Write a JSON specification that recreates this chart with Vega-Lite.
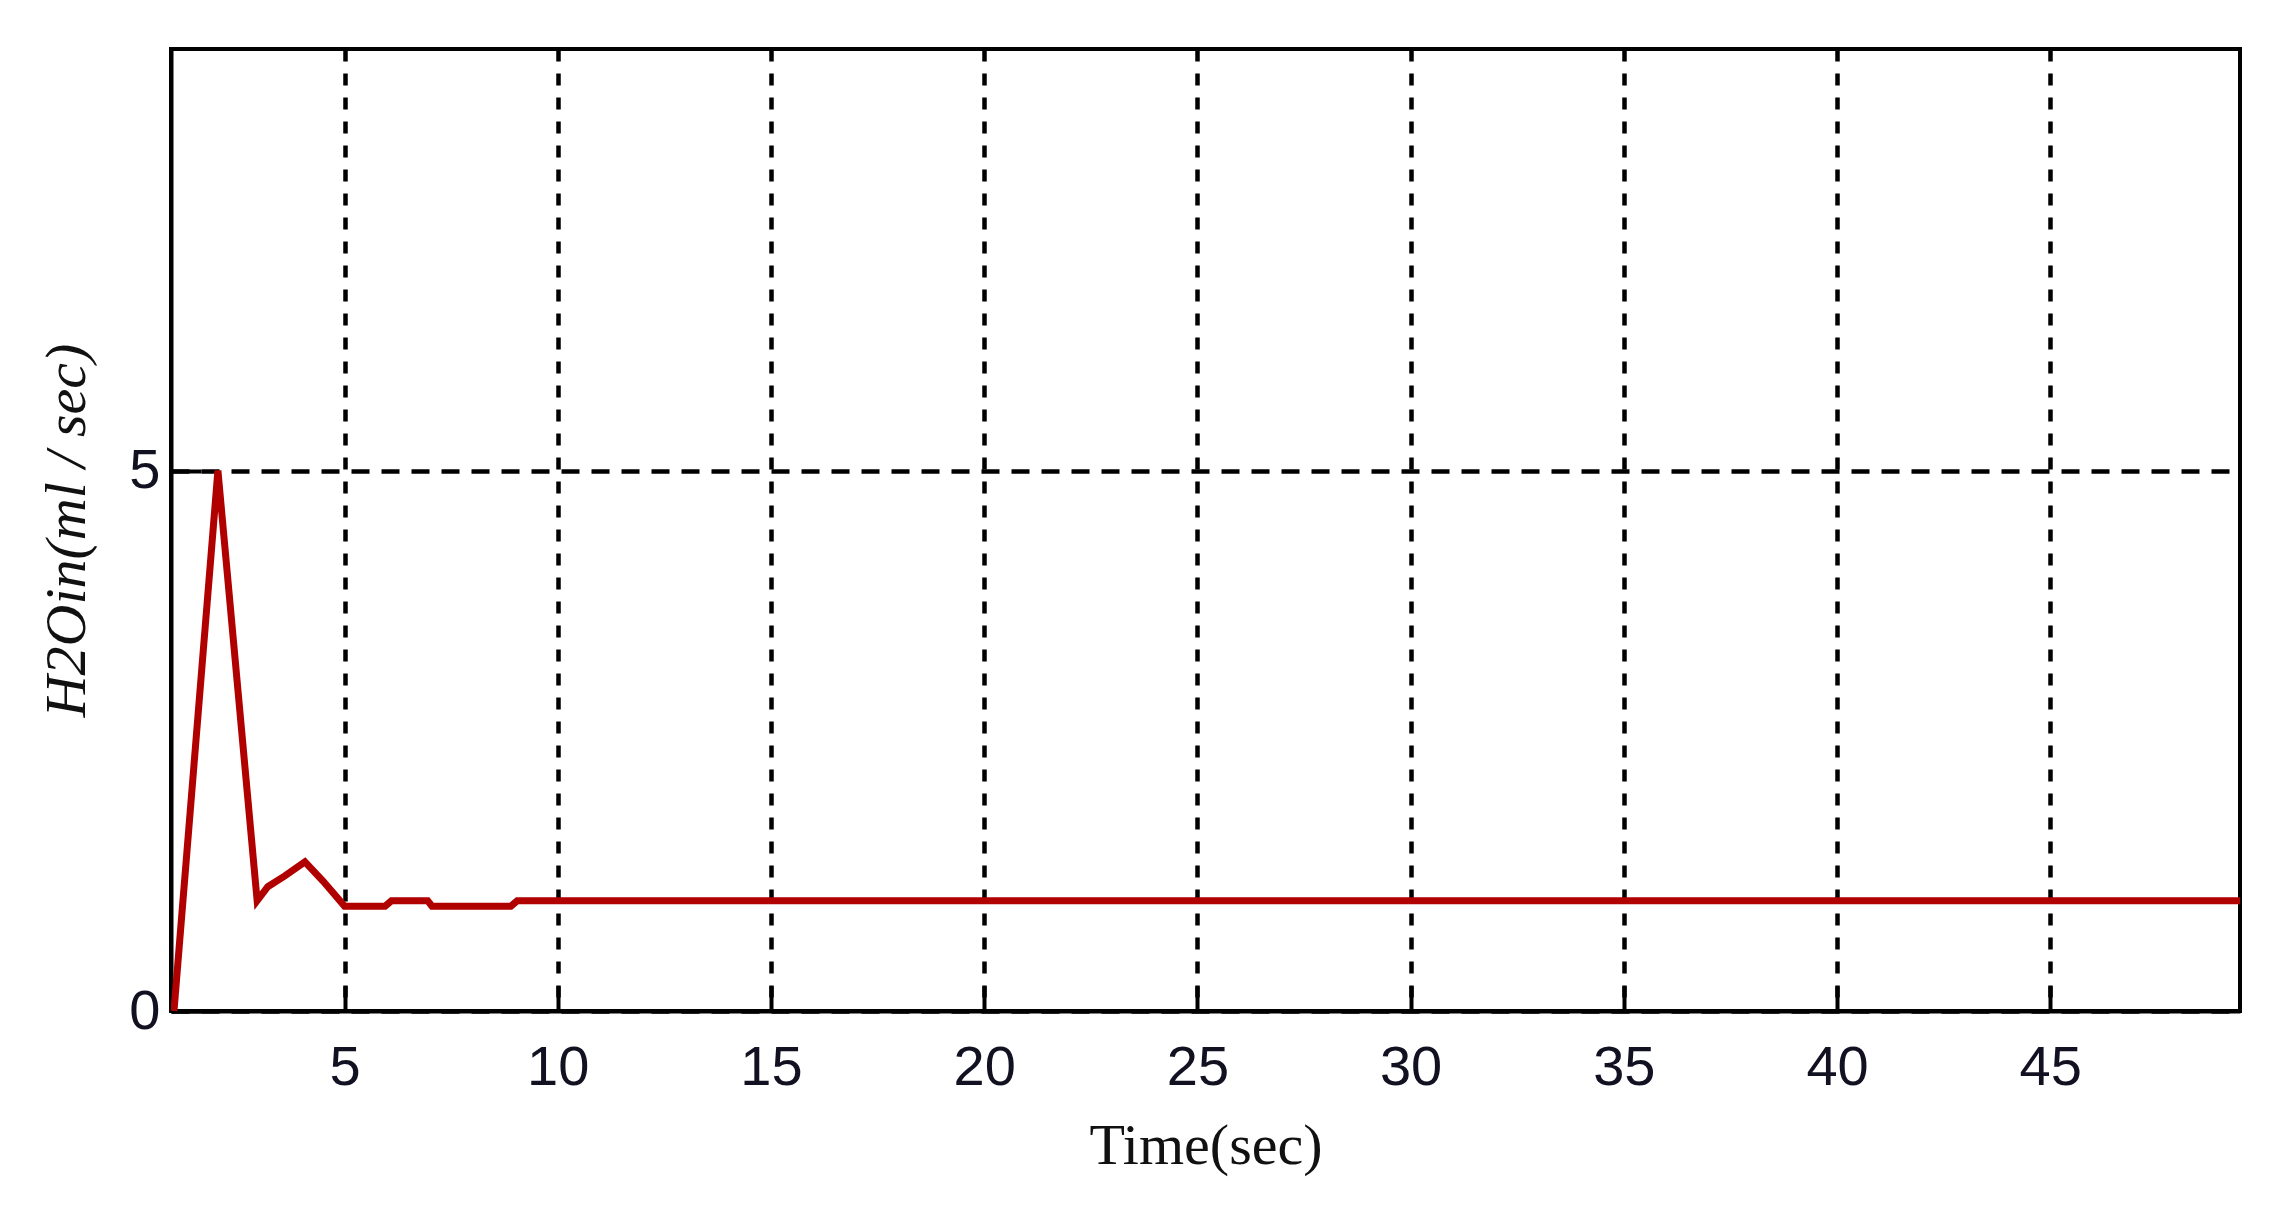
{
  "$schema": "https://vega.github.io/schema/vega-lite/v6.json",
  "width": 2069,
  "height": 962,
  "autosize": {"type": "none"},
  "padding": {"left": 171, "top": 49, "right": 47, "bottom": 216},
  "background": "white",
  "config": {
    "view": {"stroke": "black", "strokeWidth": 4},
    "axis": {
      "domainColor": "black",
      "domainWidth": 4,
      "tickColor": "black",
      "tickWidth": 4,
      "gridColor": "black",
      "gridWidth": 4.5,
      "gridOpacity": 1,
      "labelFont": "Liberation Sans",
      "labelColor": "#111122",
      "titleColor": "#111111",
      "titleFont": "Liberation Serif",
      "titleFontWeight": "normal"
    }
  },
  "data": {
    "values": [
      {"t": 1.0, "flow": 0},
      {"t": 2.03, "flow": 5},
      {"t": 2.95, "flow": 1.02},
      {"t": 3.2, "flow": 1.15},
      {"t": 3.6, "flow": 1.25},
      {"t": 4.07, "flow": 1.38},
      {"t": 4.5, "flow": 1.2},
      {"t": 5.0, "flow": 0.97},
      {"t": 5.95, "flow": 0.97},
      {"t": 6.1, "flow": 1.02},
      {"t": 6.95, "flow": 1.02},
      {"t": 7.05, "flow": 0.97},
      {"t": 8.9, "flow": 0.97},
      {"t": 9.05, "flow": 1.02},
      {"t": 49.45, "flow": 1.02}
    ]
  },
  "mark": {"type": "line", "color": "#b00000", "strokeWidth": 7, "clip": true},
  "encoding": {
    "x": {
      "field": "t",
      "type": "quantitative",
      "scale": {"domain": [0.93, 49.45], "nice": false, "zero": false},
      "axis": {
        "values": [5, 10, 15, 20, 25, 30, 35, 40, 45],
        "tickSize": -25,
        "labelPadding": 54,
        "labelFontSize": 56,
        "gridDash": [12, 12],
        "title": "Time(sec)",
        "titleFontSize": 58,
        "titlePadding": 22
      }
    },
    "y": {
      "field": "flow",
      "type": "quantitative",
      "scale": {"domain": [0, 8.9], "nice": false},
      "axis": {
        "values": [0, 5],
        "tickSize": -30,
        "labelPadding": 41,
        "labelFontSize": 56,
        "gridDash": [18, 12],
        "title": "H2Oin(ml / sec)",
        "titleFontSize": 58,
        "titleFontStyle": "italic",
        "titlePadding": 32
      }
    }
  }
}
